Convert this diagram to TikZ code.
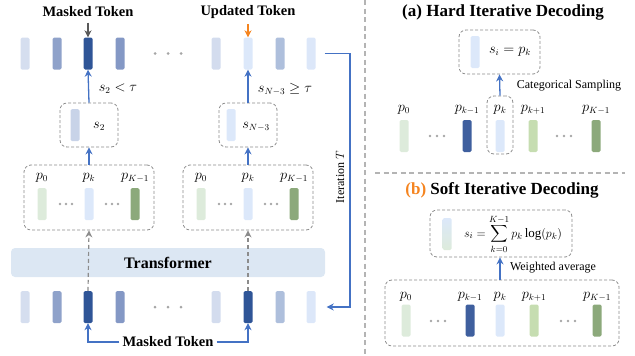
\documentclass[tikz,border=0pt]{standalone}
\usepackage{fontspec}
\setmainfont{Liberation Serif}
\usepackage{amsmath}
\usetikzlibrary{arrows.meta}

\definecolor{arrowblue}{HTML}{4472C4}
\definecolor{arrowgray}{HTML}{595959}
\definecolor{updorange}{HTML}{F5841F}
\definecolor{tokA}{HTML}{D5DEEF}
\definecolor{tokB}{HTML}{8FA2CA}
\definecolor{tokC}{HTML}{8498C5}
\definecolor{tokD}{HTML}{2F5597}
\definecolor{tokE}{HTML}{D3DCEE}
\definecolor{tokF}{HTML}{AEBFDC}
\definecolor{tokG}{HTML}{DCE7F9}
\definecolor{tokS}{HTML}{C8D3E8}
\definecolor{bluL}{HTML}{DCE8FA}
\definecolor{bluD}{HTML}{3F5F9E}
\definecolor{grnA}{HTML}{DDEBDB}
\definecolor{grnB}{HTML}{C6DDB1}
\definecolor{grnC}{HTML}{8CA97B}
\definecolor{trans}{HTML}{DCE7F3}
\definecolor{dashgray}{HTML}{8C8C8C}
\definecolor{sepgray}{HTML}{B4B4B4}
\definecolor{dotgray}{HTML}{A6A6A6}

\tikzset{
  tok/.style={rectangle, rounded corners=1.5pt, minimum width=9pt, minimum height=32pt, inner sep=0pt, fill=#1},
  tok/.default=none,
  dbox/.style={draw=dashgray, dash pattern=on 3pt off 2pt, line width=0.8pt, rounded corners=7pt, inner sep=0pt},
  barrow/.style={draw=arrowblue, line width=1.3pt, ->},
  garrow/.style={draw=dashgray, line width=1.2pt, dash pattern=on 4pt off 3pt, ->},
  sepline/.style={draw=sepgray, line width=1.2pt, dash pattern=on 5pt off 3.5pt},
  boldlab/.style={font=\fontsize{14.5}{16}\selectfont\bfseries},
  title/.style={font=\fontsize{17}{19}\selectfont\bfseries},
  small/.style={font=\fontsize{12}{14}\selectfont}
}

\begin{document}
\begin{tikzpicture}[x=1pt,y=-1pt,>={Stealth[length=7pt,width=7pt]},font=\fontsize{13.5}{15}\selectfont]
\useasboundingbox (0,0) rectangle (635,356);

% token rows before and after the update
\foreach \x/\c [count=\i] in {25/tokA,57/tokB,88/tokD,120/tokC,216/tokE,248/bluL,280/tokF,311/tokG}
    \node[tok=\c] (u\i) at (\x,53.5) {};
\foreach \x/\c [count=\i] in {25/tokA,57/tokB,88/tokD,120/tokC,216/tokE,248/tokD,280/tokF,311/tokG}
    \node[tok=\c] (m\i) at (\x,307) {};
\foreach \y in {53.5,307}
    \foreach \d in {-13,0,13}
        \fill[dotgray] (168+\d,\y) circle (1.5pt);

\node[boldlab] (mtop) at (88,12) {Masked Token};
\node[boldlab] (utop) at (248,12) {Updated Token};
\draw[->, line width=1.3pt, draw=arrowgray, shorten <=2pt] (mtop.south) -- (u3.north);
\draw[->, line width=1.3pt, draw=updorange, shorten <=2pt] (utop.south) -- (u6.north);

% scores
\node[dbox, minimum width=58pt, minimum height=44pt] (sA) at (89,125) {};
\node[tok=tokS] (sAt) at (75,125) {};
\node (sAl) at (99,126) {$s_2$};
\node[dbox, minimum width=58pt, minimum height=44pt] (sB) at (248,125) {};
\node[tok=bluL] (sBt) at (231,125) {};
\node (sBl) at (256,127) {$s_{N-3}$};
\draw[barrow] (sA.north) -- (u3.south);
\draw[barrow] (sB.north) -- (u6.south);
\node (thA) at (118,89) {$s_2<\tau$};
\node (thB) at (285,89) {$s_{N-3}\geq\tau$};

% predicted distributions
\foreach \off/\n in {0/A,159/B} {
    \node[dbox, minimum width=130pt, minimum height=65pt] (p\n) at (89+\off,197.5) {};
    \node[tok=grnA] (p\n-0) at (42+\off,204) {};
    \node[tok=bluL] (p\n-k) at (89+\off,204) {};
    \node[tok=grnC] (p\n-K) at (135+\off,204) {};
    \node at (42+\off,178) {$p_0$};
    \node at (89+\off,178) {$p_k$};
    \node at (135+\off,178) {$p_{K-1}$};
    \foreach \d in {-6,0,6} {
        \fill[dotgray] (66+\off+\d,204) circle (1.3pt);
        \fill[dotgray] (112+\off+\d,204) circle (1.3pt);
    }
}
\draw[barrow] (pA.north) -- (sA.south);
\draw[barrow] (pB.north) -- (sB.south);

\node[fill=trans, rounded corners=4pt, minimum width=314pt, minimum height=29pt,
      font=\fontsize{16}{18}\selectfont\bfseries] (tf) at (168,262.5) {Transformer};
\draw[garrow] (m3.north) -- (pA.south);
\draw[garrow] (m6.north) -- (pB.south);

\node[boldlab, inner sep=3pt] (mbot) at (168,342) {Masked Token};
\draw[barrow] (mbot.west) -| (m3.south);
\draw[barrow] (mbot.east) -| (m6.south);

% loop back for the next iteration
\coordinate (iter) at (350,0);
\draw[barrow, shorten <=9pt, shorten >=11pt] (u8.east) -- (u8.east -| iter) -- (m8.east -| iter) -- (m8.east);
\node[small, rotate=90] (itlab) at (340,177) {Iteration $T$};

\draw[sepline] (365,0) -- (365,356);
\draw[sepline] (375,173) -- (625,173);

% (a) hard decoding
\node[title] (ta) at (503,12) {(a) Hard Iterative Decoding};
\node[dbox, minimum width=81pt, minimum height=44pt] (si) at (499.5,52) {};
\node[tok=bluL] (sit) at (475,52) {};
\node (sil) at (510,52) {$s_i=p_k$};
\node[dbox, minimum width=26pt, minimum height=58pt] (pkbox) at (500,125) {};
\draw[barrow] (pkbox.north) -- (si.south);
\node[small] (cs) at (569,86) {Categorical Sampling};
\foreach \x/\c/\l [count=\i] in {404/grnA/0,467/bluD/{k-1},500/bluL/k,533/grnB/{k+1},596/grnC/{K-1}} {
    \node[tok=\c] (a\i) at (\x,136) {};
    \node at (\x,110) {$p_{\l}$};
}
\foreach \d in {-7,0,7} {
    \fill[dotgray] (437+\d,136) circle (1.3pt);
    \fill[dotgray] (564+\d,136) circle (1.3pt);
}

% (b) soft decoding
\node[title] (tb) at (502,190) {\textcolor{updorange}{(b)} Soft Iterative Decoding};
\node[dbox, minimum width=142pt, minimum height=47pt] (sb) at (501,233.5) {};
\node[tok, top color=bluL, bottom color=grnA] (sbt) at (447,234) {};
\node[inner sep=0pt, font=\fontsize{13}{15}\selectfont] (sbl) at (513,234) {$\displaystyle s_i=\sum_{k=0}^{K-1}p_k\log(p_k)$};
\node[dbox, minimum width=234pt, minimum height=66pt] (pb) at (502,313) {};
\foreach \x/\c/\l [count=\i] in {406/grnA/0,470/bluD/{k-1},500/bluL/k,534/grnB/{k+1},597/grnC/{K-1}} {
    \node[tok=\c] (b\i) at (\x,320.5) {};
    \node at (\x,297) {$p_{\l}$};
}
\foreach \d in {-7,0,7} {
    \fill[dotgray] (438+\d,321) circle (1.3pt);
    \fill[dotgray] (568+\d,321) circle (1.3pt);
}
\draw[barrow] (pb.north -| b3) -- (sb.south -| b3);
\node[small] (wa) at (553,268) {Weighted average};

\end{tikzpicture}
\end{document}
